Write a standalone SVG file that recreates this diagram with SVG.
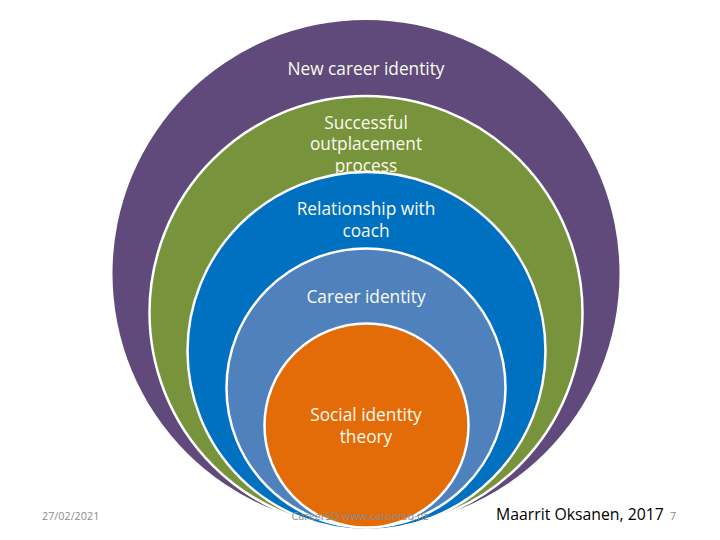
<svg xmlns="http://www.w3.org/2000/svg" width="720" height="540" viewBox="0 0 720 540">
<style>
.ring{stroke:#ffffff;stroke-width:2.5}
.lbl{font-family:"Open Sans","Liberation Sans",sans-serif;font-size:17.3px;fill:#fbfbee;text-anchor:middle}
.foot{font-family:"Open Sans","Liberation Sans",sans-serif;font-size:10.8px;fill:#8c8c8c}
</style>
<rect width="720" height="540" fill="#ffffff"/>
<g id="node-new-career-identity">
<circle cx="366" cy="273.5" r="253.5" fill="#604a7b"/>
<text class="lbl" x="366" y="75">New career identity</text>
</g>
<g id="node-successful-outplacement">
<circle class="ring" cx="366" cy="312.5" r="216.5" fill="#77933c"/>
<text class="lbl" x="366" y="129">Successful</text>
<text class="lbl" x="366" y="150">outplacement</text>
<text class="lbl" x="366" y="172">process</text>
</g>
<g id="node-relationship-with-coach">
<circle class="ring" cx="366.5" cy="351" r="179" fill="#0070c0"/>
<text class="lbl" x="366" y="215">Relationship with</text>
<text class="lbl" x="366" y="237">coach</text>
</g>
<g id="node-career-identity">
<circle class="ring" cx="366" cy="388" r="139.5" fill="#4f81bd"/>
<text class="lbl" x="366" y="303">Career identity</text>
</g>
<g id="node-social-identity-theory">
<circle class="ring" cx="366.5" cy="425.5" r="102" fill="#e36c09"/>
<text class="lbl" x="366" y="421">Social identity</text>
<text class="lbl" x="366" y="443">theory</text>
</g>
<g id="connectors"></g>
<g id="footer">
<text class="foot" x="42" y="520">27/02/2021</text>
<text class="foot" x="360" y="520" text-anchor="middle" font-size="12px" fill="#a6a6a6">CareerSQ www.careersq.nz</text>
<text x="496" y="520" font-family="'Open Sans','Liberation Sans',sans-serif" font-size="15.8px" fill="#000000">Maarrit Oksanen, 2017</text>
<text class="foot" x="670" y="520">7</text>
</g>
</svg>
